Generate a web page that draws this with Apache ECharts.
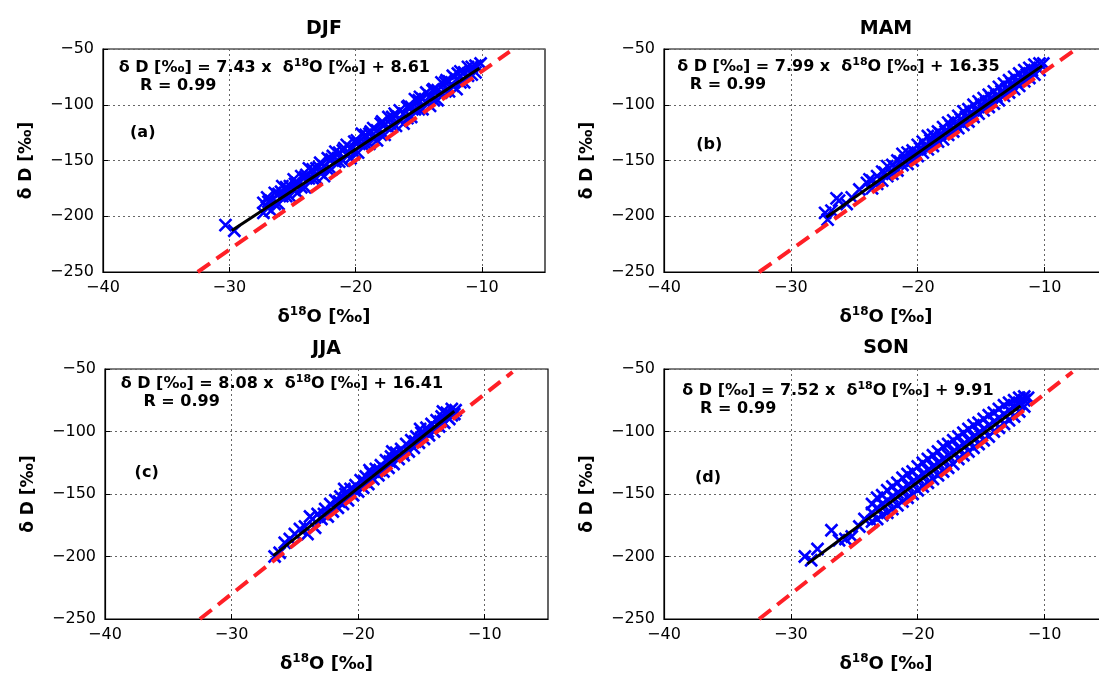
<!DOCTYPE html>
<html>
<head>
<meta charset="utf-8">
<title>Seasonal δD vs δ18O</title>
<script src="https://cdn.jsdelivr.net/npm/echarts@6/dist/echarts.min.js"></script>
<style>
  html, body { margin: 0; padding: 0; background: #fff; overflow: hidden; }
  #chart { width: 1099px; height: 678px; }
</style>
</head>
<body>
<div id="chart"></div>
<script>
// ---- data ----------------------------------------------------------------
const seasons = ['DJF', 'MAM', 'JJA', 'SON'];
const panelTags = ['(a)', '(b)', '(c)', '(d)'];
const xTickValues = [-40, -30, -20, -10];
const xLimits = [-40, -5];
const yTickValues = [-250, -200, -150, -100, -50];

// [δ18O, δD] pairs, ‰
const djfPoints = [
  [-30.3,-208],[-29.6,-213],
  [-27.3,-188],[-27.3,-197],[-27.0,-183],[-27.0,-192],[-26.7,-186],[-26.7,-195],[-26.4,-179],[-26.4,-189],
  [-26.1,-180],[-26.1,-189],[-25.8,-173],[-25.8,-182],[-25.5,-174],[-25.5,-182],[-25.2,-173],[-25.2,-182],
  [-24.9,-167],[-24.9,-176],[-24.6,-170],[-24.6,-179],[-24.3,-164],[-24.3,-174],[-24.0,-165],[-24.0,-174],
  [-23.7,-157],[-23.7,-166],[-23.4,-158],[-23.4,-166],[-23.1,-157],[-23.1,-166],[-22.8,-152],[-22.8,-161],
  [-22.5,-155],[-22.5,-164],[-22.2,-148],[-22.2,-158],[-21.9,-149],[-21.9,-158],[-21.6,-142],[-21.6,-151],
  [-21.3,-143],[-21.3,-151],[-21.0,-141],[-21.0,-150],[-20.7,-136],[-20.7,-145],[-20.4,-139],[-20.4,-148],
  [-20.1,-133],[-20.1,-143],[-19.8,-134],[-19.8,-143],[-19.5,-126],[-19.5,-135],[-19.2,-127],[-19.2,-135],
  [-18.9,-126],[-18.9,-135],[-18.6,-121],[-18.6,-130],[-18.3,-123],[-18.3,-132],[-18.0,-117],[-18.0,-127],
  [-17.7,-118],[-17.7,-127],[-17.4,-111],[-17.4,-120],[-17.1,-111],[-17.1,-119],[-16.8,-110],[-16.8,-119],
  [-16.5,-105],[-16.5,-114],[-16.2,-108],[-16.2,-117],[-15.9,-102],[-15.9,-112],[-15.6,-102],[-15.6,-111],
  [-15.3,-95],[-15.3,-104],[-15.0,-96],[-15.0,-104],[-14.7,-95],[-14.7,-104],[-14.4,-89],[-14.4,-98],
  [-14.1,-92],[-14.1,-101],[-13.8,-86],[-13.8,-96],[-13.5,-87],[-13.5,-96],[-13.2,-80],[-13.2,-89],
  [-12.9,-80],[-12.9,-88],[-12.6,-79],[-12.6,-88],[-12.3,-74],[-12.3,-83],[-12.0,-77],[-12.0,-86],
  [-11.7,-70],[-11.7,-80],[-11.4,-71],[-11.4,-80],[-11.1,-66],[-11.1,-74],[-10.8,-66],[-10.8,-73],
  [-10.5,-65],[-10.5,-71],[-10.1,-63],
  [-26.9,-187],[-25.9,-178],[-24.8,-171],[-23.9,-163],[-22.9,-156],[-21.8,-146],[-20.9,-139],[-19.9,-132],
  [-18.8,-124],[-17.9,-115],[-16.9,-108],[-15.8,-101],[-14.9,-93],[-13.9,-87],[-12.8,-78],[-11.9,-72]
];

const mamPoints = [
  [-27.3,-197],[-27.1,-203],[-26.8,-195],[-26.4,-184],[-26.2,-186],[-25.6,-189],[-25.2,-183],[-24.6,-176],
  [-24.0,-170],[-23.8,-167],[-23.6,-168],[-23.6,-175],[-23.2,-164],[-23.2,-171],[-22.8,-160],[-22.8,-168],
  [-22.4,-155],[-22.4,-164],[-22.0,-154],[-22.0,-162],[-21.8,-156],[-21.6,-150],[-21.6,-159],[-21.2,-144],
  [-21.2,-154],[-21.0,-150],[-20.8,-143],[-20.8,-153],[-20.4,-141],[-20.4,-150],[-20.2,-143],[-20.0,-136],
  [-20.0,-146],[-19.6,-133],[-19.6,-143],[-19.4,-137],[-19.2,-128],[-19.2,-140],[-18.8,-127],[-18.8,-137],
  [-18.6,-130],[-18.4,-124],[-18.4,-133],[-18.0,-120],[-18.0,-131],[-17.8,-124],[-17.6,-116],[-17.6,-127],
  [-17.2,-114],[-17.2,-124],[-17.0,-118],[-16.8,-110],[-16.8,-121],[-16.4,-106],[-16.4,-118],[-16.2,-111],
  [-16.0,-104],[-16.0,-115],[-15.6,-100],[-15.6,-111],[-15.4,-105],[-15.2,-97],[-15.2,-108],[-14.8,-94],
  [-14.8,-105],[-14.6,-98],[-14.4,-91],[-14.4,-102],[-14.0,-88],[-14.0,-99],[-13.8,-92],[-13.6,-84],
  [-13.6,-96],[-13.2,-81],[-13.2,-92],[-13.0,-86],[-12.8,-78],[-12.8,-89],[-12.4,-75],[-12.4,-86],
  [-12.2,-79],[-12.0,-72],[-12.0,-83],[-11.6,-69],[-11.6,-79],[-11.4,-73],[-11.2,-67],[-11.2,-76],
  [-10.8,-64],[-10.8,-73],[-10.4,-63],[-10.4,-69],[-10.1,-63],
  [-22.6,-161],[-21.4,-151],[-20.6,-145],[-19.8,-139],[-19.0,-132],[-18.2,-126],[-17.4,-119],[-16.6,-113],
  [-15.8,-107],[-15.0,-100],[-14.2,-94],[-13.4,-88],[-12.6,-81],[-11.8,-75],[-11.0,-69]
];

const jjaPoints = [
  [-26.6,-200],[-26.2,-197],[-25.8,-189],[-25.4,-186],[-25.0,-182],[-24.6,-178],[-24.2,-176],[-24.0,-182],
  [-23.8,-168],[-23.6,-170],[-23.4,-177],[-23.2,-166],[-22.9,-170],[-22.6,-162],[-22.4,-168],[-22.2,-158],
  [-22.0,-164],[-21.8,-155],[-21.6,-161],[-21.4,-152],[-21.2,-158],[-21.1,-146],[-21.0,-150],[-20.8,-155],
  [-20.6,-146],[-20.4,-151],[-20.2,-143],[-20.0,-148],[-19.8,-139],[-19.6,-145],[-19.4,-136],[-19.2,-142],
  [-19.1,-131],[-19.0,-133],[-18.8,-138],[-18.6,-130],[-18.4,-135],[-18.2,-127],[-18.0,-132],[-17.8,-123],
  [-17.6,-129],[-17.4,-120],[-17.3,-116],[-17.2,-126],[-17.0,-117],[-16.8,-122],[-16.6,-114],[-16.4,-119],
  [-16.2,-110],[-16.0,-116],[-15.8,-107],[-15.6,-113],[-15.4,-104],[-15.2,-109],[-15.1,-98],[-15.0,-101],
  [-14.8,-106],[-14.6,-97],[-14.4,-103],[-14.2,-94],[-14.0,-100],[-13.8,-91],[-13.6,-96],[-13.4,-88],
  [-13.3,-84],[-13.2,-93],[-13.0,-85],[-12.8,-90],[-12.6,-82],[-12.6,-87],[-12.4,-86],[-12.3,-83],
  [-22.7,-166],[-21.5,-156],[-20.3,-147],[-19.5,-140],[-18.3,-131],[-17.5,-124],[-16.5,-117],[-15.5,-108],
  [-14.5,-100],[-13.5,-92]
];

const sonPoints = [
  [-28.9,-200],[-28.4,-203],[-27.9,-194],[-26.8,-179],[-26.2,-187],[-25.7,-186],[-25.2,-184],[-24.6,-176],
  [-24.2,-170],
  [-23.6,-158],[-23.6,-165],[-23.6,-172],[-23.2,-153],[-23.2,-161],[-23.2,-170],[-22.8,-151],[-22.8,-158],
  [-22.8,-167],[-22.4,-147],[-22.4,-155],[-22.4,-165],[-22.0,-144],[-22.0,-152],[-22.0,-162],[-21.6,-141],
  [-21.6,-149],[-21.6,-159],[-21.2,-137],[-21.2,-146],[-21.2,-156],[-20.8,-134],[-20.8,-143],[-20.8,-153],
  [-20.4,-132],[-20.4,-140],[-20.4,-150],[-20.0,-128],[-20.0,-137],[-20.0,-147],[-19.6,-125],[-19.6,-134],
  [-19.6,-144],[-19.2,-122],[-19.2,-131],[-19.2,-141],[-18.8,-119],[-18.8,-128],[-18.8,-138],[-18.4,-116],
  [-18.4,-125],[-18.4,-135],[-18.0,-112],[-18.0,-122],[-18.0,-132],[-17.6,-110],[-17.6,-119],[-17.6,-129],
  [-17.2,-107],[-17.2,-116],[-17.2,-126],[-16.8,-104],[-16.8,-113],[-16.8,-122],[-16.4,-101],[-16.4,-110],
  [-16.4,-119],[-16.0,-98],[-16.0,-107],[-16.0,-116],[-15.6,-95],[-15.6,-104],[-15.6,-113],[-15.2,-93],
  [-15.2,-101],[-15.2,-110],[-14.8,-90],[-14.8,-98],[-14.8,-107],[-14.4,-87],[-14.4,-95],[-14.4,-104],
  [-14.0,-85],[-14.0,-92],[-14.0,-100],[-13.6,-82],[-13.6,-89],[-13.6,-97],[-13.2,-79],[-13.2,-86],
  [-13.2,-94],[-12.8,-77],[-12.8,-83],[-12.8,-91],[-12.4,-75],[-12.4,-80],[-12.4,-88],[-12.0,-73],
  [-12.0,-78],[-12.0,-84],[-11.6,-72],[-11.6,-75],[-11.6,-80],[-11.3,-73]
];

const seasonPoints = [djfPoints, mamPoints, jjaPoints, sonPoints];

// least-squares fits stated on each panel
const fitSlope = [7.43, 7.99, 8.08, 7.52];
const fitIntercept = [8.61, 16.35, 16.41, 9.91];
const fitR = [0.99, 0.99, 0.99, 0.99];
const fitRange = [[-29.8, -10.2], [-27.2, -10.2], [-26.7, -12.4], [-28.7, -11.9]];

// global meteoric water line end points [δ18O, δD]
const gmwlEnds = [[-32.5, -250], [-7.8, -52.4]];

// ---- layout ----------------------------------------------------------------
const FONT = 'DejaVu Sans';
const grids = [
  { left: 103, top: 49, width: 442, height: 223 },
  { left: 664, top: 49, width: 444, height: 223 },
  { left: 105, top: 369, width: 443, height: 250 },
  { left: 664, top: 369, width: 444, height: 250 }
];
const titleTops = [20, 20, 340, 339];
// where the fit text, R and panel tag sit, in axis units
const noteAnchors = [
  { eq: [-38.8, -67], r: [-37.1, -83], tag: [-37.9, -125] },
  { eq: [-39.0, -66], r: [-38.0, -82], tag: [-37.5, -136] },
  { eq: [-38.8, -62], r: [-37.0, -76.5], tag: [-37.7, -132.7] },
  { eq: [-38.6, -67.6], r: [-37.2, -82], tag: [-37.6, -137] }
];

const minusSign = v => String(v).replace('-', '\u2212');

const plainText = { textBorderWidth: 0, textBorderColor: 'transparent', textShadowBlur: 0, opacity: 1 };
const richSup = {
  t: Object.assign({ fontFamily: FONT, fontSize: 16, fontWeight: 'bold', color: '#000', lineHeight: 20 }, plainText),
  s: Object.assign({ fontFamily: FONT, fontSize: 11, fontWeight: 'bold', color: '#000', lineHeight: 11, verticalAlign: 'top' }, plainText)
};

const xAxes = grids.map((g, i) => ({
  gridIndex: i,
  type: 'value',
  min: xLimits[0],
  max: xLimits[1],
  interval: xTickValues[1] - xTickValues[0],
  name: '{n|δ}{s|18}{n|O [‰]}',
  nameLocation: 'middle',
  nameGap: 34,
  nameTextStyle: {
    fontFamily: FONT, fontSize: 18, fontWeight: 'bold', color: '#000',
    rich: {
      n: { fontFamily: FONT, fontSize: 18, fontWeight: 'bold', color: '#000', lineHeight: 22 },
      s: { fontFamily: FONT, fontSize: 12, fontWeight: 'bold', color: '#000', lineHeight: 12, verticalAlign: 'top' }
    }
  },
  axisLine: { show: true, onZero: false, lineStyle: { color: '#000', width: 1.2 } },
  axisTick: { show: true, inside: true, length: 5, lineStyle: { color: '#000', width: 1 } },
  axisLabel: {
    showMaxLabel: false, margin: 8, color: '#000', fontFamily: FONT, fontSize: 16,
    formatter: minusSign
  },
  splitLine: { show: true, lineStyle: { type: [2, 3], color: '#666', width: 1 } }
}));

const yAxes = grids.map((g, i) => ({
  gridIndex: i,
  type: 'value',
  min: yTickValues[0],
  max: yTickValues[yTickValues.length - 1],
  interval: yTickValues[1] - yTickValues[0],
  name: 'δ D [‰]',
  nameLocation: 'middle',
  nameGap: 68,
  nameTextStyle: { fontFamily: FONT, fontSize: 17, fontWeight: 'bold', color: '#000' },
  axisLine: { show: true, onZero: false, lineStyle: { color: '#000', width: 1.2 } },
  axisTick: { show: true, inside: true, length: 5, lineStyle: { color: '#000', width: 1 } },
  axisLabel: { margin: 9, color: '#000', fontFamily: FONT, fontSize: 16, formatter: minusSign },
  splitLine: { show: true, lineStyle: { type: [2, 3], color: '#666', width: 1 } }
}));

const series = [];
seasonPoints.forEach((pts, i) => {
  series.push({
    name: seasons[i] + ' samples',
    type: 'scatter',
    xAxisIndex: i, yAxisIndex: i,
    data: pts,
    symbol: 'path://M0 0L10 10M10 0L0 10',
    symbolSize: 12,
    itemStyle: { color: 'transparent', borderColor: '#0000ff', borderWidth: 2.6, opacity: 1 },
    silent: true,
    z: 2
  });
  const [x0, x1] = fitRange[i];
  series.push({
    name: seasons[i] + ' fit',
    type: 'line',
    xAxisIndex: i, yAxisIndex: i,
    data: [[x0, fitSlope[i] * x0 + fitIntercept[i]], [x1, fitSlope[i] * x1 + fitIntercept[i]]],
    showSymbol: false,
    symbol: 'none',
    lineStyle: { color: '#000', width: 3 },
    silent: true,
    z: 3
  });
  series.push({
    name: 'GMWL',
    type: 'line',
    xAxisIndex: i, yAxisIndex: i,
    data: gmwlEnds,
    showSymbol: false,
    symbol: 'none',
    lineStyle: { color: '#ff1f26', width: 4, type: [15, 8], cap: 'butt' },
    silent: true,
    z: 4
  });
  const a = noteAnchors[i];
  const eqText = '{t|δ D [‰] = ' + fitSlope[i].toFixed(2) + ' x  δ}{s|18}{t|O [‰] + ' +
    fitIntercept[i].toFixed(2) + '}';
  series.push({
    name: seasons[i] + ' notes',
    type: 'scatter',
    xAxisIndex: i, yAxisIndex: i,
    symbolSize: 1,
    itemStyle: { color: '#fff', opacity: 0 },
    silent: true,
    z: 5,
    label: Object.assign({
      show: true,
      position: 'right',
      distance: 0,
      color: '#000',
      rich: richSup,
      formatter: p => p.data.text
    }, plainText),
    data: [
      { value: a.eq, text: eqText },
      { value: a.r, text: '{t|R = ' + fitR[i].toFixed(2) + '}' },
      { value: a.tag, text: '{t|' + panelTags[i] + '}' }
    ]
  });
});

const chart = echarts.init(document.getElementById('chart'), null, { renderer: 'canvas', width: 1099, height: 678 });
chart.setOption({
  backgroundColor: '#ffffff',
  animation: false,
  textStyle: { fontFamily: FONT },
  title: seasons.map((s, i) => ({
    text: s,
    left: grids[i].left + grids[i].width / 2,
    top: titleTops[i],
    textAlign: 'center',
    padding: 0,
    textStyle: { fontFamily: FONT, fontSize: 19, fontWeight: 'bold', color: '#000' }
  })),
  grid: grids.map(g => Object.assign({}, g, {
    show: true, borderColor: '#000', borderWidth: 1.2, backgroundColor: 'transparent',
    outerBoundsMode: 'none'
  })),
  xAxis: xAxes,
  yAxis: yAxes,
  series: series
});
</script>
</body>
</html>
